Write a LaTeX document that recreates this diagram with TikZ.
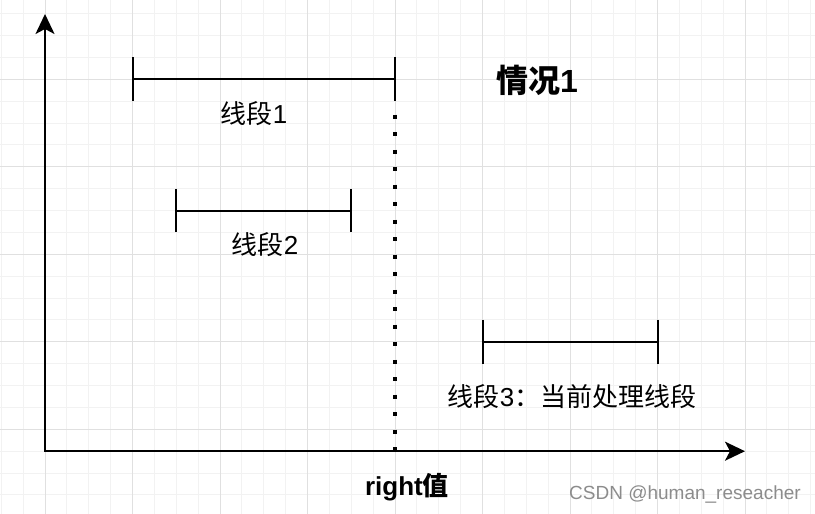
\documentclass[tikz,border=0pt]{standalone}
\usepackage{fontspec}
\setmainfont{Liberation Sans}
\newfontfamily\cjk{Noto Sans CJK SC}
\usetikzlibrary{arrows.meta}

\begin{document}
\begin{tikzpicture}[x=1pt,y=-1pt]

\tikzset{
    grid_minor/.style={draw=black!5, line width=1pt},
    grid_major/.style={draw=black!12, line width=1pt},
    axis_arrow/.style={
        line width=2pt,
        {Stealth[length=20pt,width=19pt,inset=5pt]}-{Stealth[length=20pt,width=19pt,inset=5pt]}
    },
    segment_line/.style={line width=2pt},
    dotted_mark/.style={line width=4pt, dash pattern=on 4pt off 13.5pt},
    label_text/.style={font=\fontsize{26}{30}\selectfont, inner sep=0pt},
    title_text/.style={font=\fontsize{32}{36}\selectfont\bfseries, inner sep=0pt},
    watermark/.style={font=\fontsize{19}{22}\selectfont, text=black!45, inner sep=0pt}
}

% sfondo
\fill[white] (0,0) rectangle (815,514);
\useasboundingbox (0,0) rectangle (815,514);

% griglia
\foreach \k in {-2,...,35}
    \draw[grid_minor] ({45+21.875*\k},0) -- ({45+21.875*\k},514);
\foreach \k in {-3,...,19}
    \draw[grid_minor] (0,{79.3+21.875*\k}) -- (815,{79.3+21.875*\k});
\foreach \k in {0,...,8}
    \draw[grid_major] ({45+87.5*\k},0) -- ({45+87.5*\k},514);
\foreach \k in {0,...,4}
    \draw[grid_major] (0,{79.3+87.5*\k}) -- (815,{79.3+87.5*\k});

% assi
\coordinate (origin) at (45,451.2);
\coordinate (y_tip) at (45,14);
\coordinate (x_tip) at (745,451.2);
\draw[axis_arrow] (y_tip) -- (origin) -- (x_tip);

% segmenti
\coordinate (s1_left) at (132.5,79.3);
\coordinate (s1_right) at (395,79.3);
\coordinate (s2_left) at (176.25,210.6);
\coordinate (s2_right) at (351.25,210.6);
\coordinate (s3_left) at (482.5,341.8);
\coordinate (s3_right) at (657.5,341.8);

\draw[segment_line] (s1_left) -- (s1_right);
\draw[segment_line] (s2_left) -- (s2_right);
\draw[segment_line] (s3_left) -- (s3_right);
\foreach \p in {s1_left,s1_right,s2_left,s2_right,s3_left,s3_right}
    \draw[segment_line] (\p) ++(0,-21.875) -- ++(0,43.75);

% linea tratteggiata
\coordinate (d_top) at (395,114.7);
\coordinate (d_bot) at (395,452);
\draw[dotted_mark] (d_top) -- (d_bot);

% testi
\node[label_text] (lab1) at (254,114) {{\cjk 线段}1};
\node[label_text] (lab2) at (265,245) {{\cjk 线段}2};
\node[label_text] (lab3) at (572,397) {{\cjk 线段}3{\cjk ：当前处理线段}};
\node[title_text] (case1) at (537,80) {{\cjk\bfseries 情况}1};
\node[title_text, font=\fontsize{26}{30}\selectfont\bfseries] (right_val) at (407,487) {right{\cjk\bfseries 值}};
\node[watermark] (wm) at (685,495) {CSDN @human\_reseacher};

\end{tikzpicture}
\end{document}
